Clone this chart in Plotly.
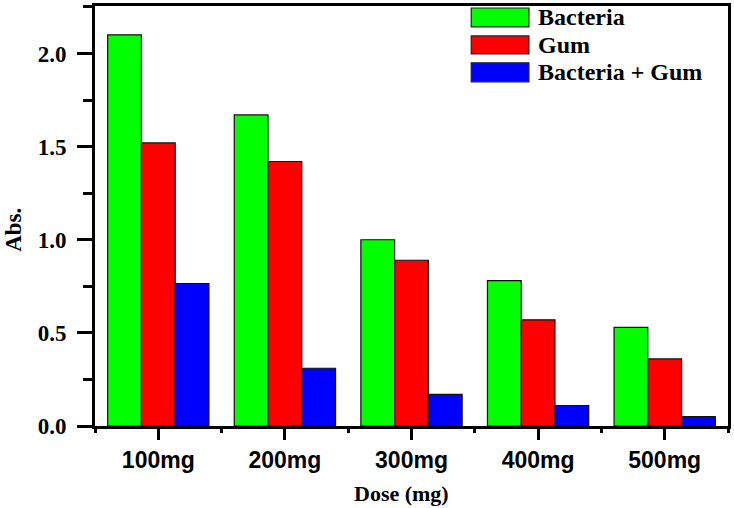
import plotly.graph_objects as go

doses = ["100mg", "200mg", "300mg", "400mg", "500mg"]
bacteria = [2.10, 1.67, 1.00, 0.78, 0.53]
gum = [1.52, 1.42, 0.89, 0.57, 0.36]
bacteria_gum = [0.765, 0.31, 0.17, 0.11, 0.05]

series_names = ["Bacteria", "Gum", "Bacteria + Gum"]
series_colors = ["#00FF00", "#FF0000", "#0000FF"]
series_values = [bacteria, gum, bacteria_gum]

W, H = 734, 508
L, R, T, B = 95, 3, 5, 82
pw, ph = W - L - R, H - T - B

def px(x):
    return (x - L) / pw

def py(y):
    return (H - B - y) / ph

SERIF = "Liberation Serif"
SANS = "Liberation Sans"

fig = go.Figure()
for name, col, vals in zip(series_names, series_colors, series_values):
    fig.add_trace(go.Bar(
        x=doses, y=vals, name=name,
        marker=dict(color=col, line=dict(color="#111111", width=1.2)),
        showlegend=False,
    ))

# helper empty trace for the minor-tick overlay axis
fig.add_trace(go.Scatter(x=[], y=[], xaxis="x2", yaxis="y", showlegend=False))

fig.update_layout(
    width=W, height=H,
    margin=dict(l=L, r=R, t=T, b=B),
    paper_bgcolor="white", plot_bgcolor="white",
    barmode="group", bargap=0.2, bargroupgap=0,
    xaxis=dict(
        type="category", range=[-0.5, 4.5],
        showline=True, linecolor="black", linewidth=3, mirror=True,
        ticks="outside", ticklen=11, tickwidth=3, tickcolor="black",
        tickfont=dict(family=SANS, size=23, color="black", weight="bold"),
        showgrid=False, zeroline=False,
    ),
    xaxis2=dict(
        overlaying="x", anchor="y", side="bottom",
        range=[-0.5, 4.5], tickmode="array",
        tickvals=[-0.5, 0.5, 1.5, 2.5, 3.5, 4.5],
        ticks="outside", ticklen=6, tickwidth=3, tickcolor="black",
        showticklabels=False, showline=False, showgrid=False, zeroline=False,
    ),
    yaxis=dict(
        range=[0, 2.255], dtick=0.5, tick0=0, tickformat=".1f",
        showline=True, linecolor="black", linewidth=3, mirror=True,
        ticks="outside", ticklen=15, tickwidth=3, tickcolor="black",
        ticklabelstandoff=6,
        tickfont=dict(family=SERIF, size=23, color="black", weight="bold"),
        minor=dict(dtick=0.25, tick0=0, ticks="outside", ticklen=9, tickwidth=3, tickcolor="black", showgrid=False),
        showgrid=False, zeroline=False,
    ),
)

# axis titles
fig.add_annotation(text="<b>Dose (mg)</b>", xref="paper", yref="paper",
                   x=px(403), y=py(494), xanchor="center", yanchor="middle",
                   showarrow=False, font=dict(family=SERIF, size=22, color="black"))
fig.add_annotation(text="<b>Abs.</b>", xref="paper", yref="paper",
                   x=px(13), y=py(229), xanchor="center", yanchor="middle",
                   textangle=-90, showarrow=False,
                   font=dict(family=SERIF, size=23, color="black"))

# legend (drawn)
rows = [(7, 26), (35, 53), (62, 81)]
for (y0, y1), name, col in zip(rows, series_names, series_colors):
    fig.add_shape(type="rect", xref="paper", yref="paper",
                  x0=px(473), x1=px(531), y0=py(y1), y1=py(y0),
                  fillcolor=col, line=dict(color="#222222", width=1.2))
    fig.add_annotation(text="<b>" + name + "</b>", xref="paper", yref="paper",
                       x=px(538), y=py((y0 + y1) / 2), xanchor="left", yanchor="middle",
                       showarrow=False, font=dict(family=SERIF, size=24, color="black"))

fig.write_html(
    "out.html",
    config={"displayModeBar": False},
    post_script="document.body.style.margin='0';document.body.style.padding='0';"
                "document.documentElement.style.overflow='hidden';document.body.style.overflow='hidden';",
)
